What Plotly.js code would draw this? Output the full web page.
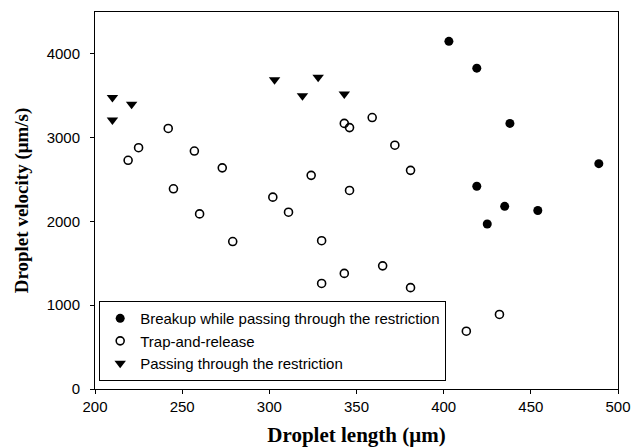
<!DOCTYPE html>
<html>
<head>
<meta charset="utf-8">
<script src="https://cdn.plot.ly/plotly-3.0.1.min.js"></script>
<style>html,body{margin:0;padding:0;background:#fff;}#chart{width:633px;height:448px;}</style>
</head>
<body>
<div id="chart"></div>
<script>
// Breakup while passing through the restriction
const breakupLength = [403, 419, 438, 489, 419, 435, 454, 425];
const breakupVelocity = [4150, 3830, 3170, 2690, 2420, 2180, 2130, 1970];

// Trap-and-release
const trapLength = [219, 225, 242, 245, 257, 260, 273, 279, 302, 311, 324, 330, 330, 343, 346, 346, 343, 359, 365, 372, 381, 381, 413, 432];
const trapVelocity = [2730, 2880, 3110, 2390, 2840, 2090, 2640, 1760, 2290, 2110, 2550, 1770, 1260, 3170, 3120, 2370, 1380, 3240, 1470, 2910, 2610, 1210, 690, 890];

// Passing through the restriction
const passLength = [210, 210, 221, 303, 319, 328, 343];
const passVelocity = [3480, 3210, 3400, 3690, 3500, 3720, 3520];

const seriesNames = ["Breakup while passing through the restriction", "Trap-and-release", "Passing through the restriction"];
const xTicks = [200, 250, 300, 350, 400, 450, 500];
const yTicks = [0, 1000, 2000, 3000, 4000];

const traces = [
  {x: breakupLength, y: breakupVelocity, name: seriesNames[0], type: 'scatter', mode: 'markers',
   marker: {symbol: 'circle', size: 9, color: '#000', line: {width: 0}}},
  {x: trapLength, y: trapVelocity, name: seriesNames[1], type: 'scatter', mode: 'markers',
   marker: {symbol: 'circle-open', size: 8, color: '#000', line: {width: 1.6, color: '#000'}}},
  {x: passLength, y: passVelocity, name: seriesNames[2], type: 'scatter', mode: 'markers',
   marker: {symbol: 'triangle-down', size: 10, color: '#000', line: {width: 0}}}
];

const axisCommon = {
  showgrid: false, zeroline: false, showline: true, linecolor: '#000', linewidth: 1,
  mirror: true, ticks: 'outside', ticklen: 4, tickwidth: 1, tickcolor: '#000',
  tickfont: {family: 'Liberation Sans, Arial, sans-serif', size: 15, color: '#000'}
};

const layout = {
  width: 633, height: 448,
  margin: {l: 95, r: 15, t: 12, b: 59},
  paper_bgcolor: '#fff', plot_bgcolor: '#fff',
  showlegend: true,
  legend: {x: 0.008, y: 0.021, xanchor: 'left', yanchor: 'bottom',
    bgcolor: '#fff', bordercolor: '#000', borderwidth: 1,
    font: {family: 'Liberation Sans, Arial, sans-serif', size: 15, color: '#000'},
    tracegroupgap: 0, itemwidth: 30},
  xaxis: Object.assign({}, axisCommon, {
    range: [200, 500], tickvals: xTicks, ticktext: xTicks.map(String),
    title: {text: 'Droplet length (μm)', standoff: 13,
      font: {family: 'Liberation Serif, Times New Roman, serif', size: 21, color: '#000', weight: 'bold'}}
  }),
  yaxis: Object.assign({}, axisCommon, {
    range: [0, 4500], tickvals: yTicks, ticktext: yTicks.map(String),
    ticklabelstandoff: 7,
    title: {text: 'Droplet velocity (μm/s)', standoff: 12,
      font: {family: 'Liberation Serif, Times New Roman, serif', size: 19, color: '#000', weight: 'bold'}}
  })
};

Plotly.newPlot('chart', traces, layout, {displayModeBar: false, staticPlot: true});
</script>
</body>
</html>
